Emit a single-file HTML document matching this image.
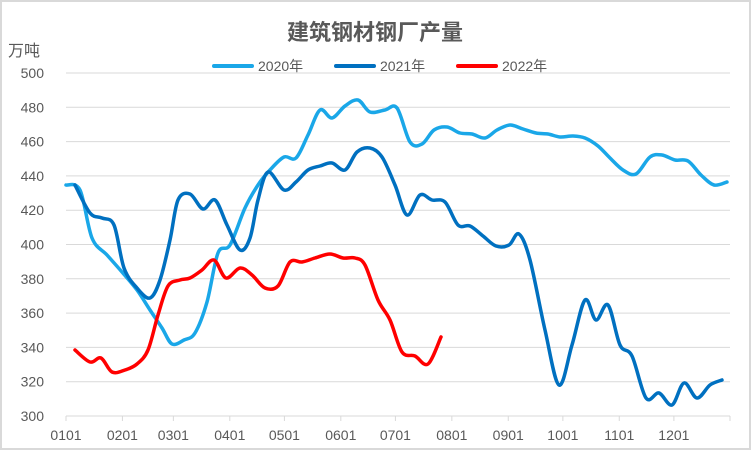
<!DOCTYPE html>
<html><head><meta charset="utf-8"><style>
html,body{margin:0;padding:0;background:#fff}
svg{display:block;font-family:"Liberation Sans","Noto Sans CJK SC",sans-serif}
</style></head><body>
<svg id="s" width="751" height="450" viewBox="0 0 751 450" xmlns="http://www.w3.org/2000/svg">
<rect x="1" y="1" width="749" height="448" fill="#fff" stroke="#d9d9d9" stroke-width="2"/>
<text x="375" y="40" text-anchor="middle" font-size="22" font-weight="bold" fill="#595959">建筑钢材钢厂产量</text>
<text x="8" y="56" font-size="16" fill="#595959">万吨</text>
<g font-size="14" fill="#595959">
<line x1="214" y1="66" x2="252" y2="66" stroke="#1AA7E8" stroke-width="4" stroke-linecap="round"/>
<text x="258" y="71">2020年</text>
<line x1="336" y1="66" x2="374" y2="66" stroke="#0070C0" stroke-width="4" stroke-linecap="round"/>
<text x="380" y="71">2021年</text>
<line x1="458" y1="66" x2="496" y2="66" stroke="#FF0000" stroke-width="4" stroke-linecap="round"/>
<text x="502" y="71">2022年</text>
</g>
<g id="grid"></g>
<g id="lines" fill="none" stroke-width="3.5" stroke-linejoin="round" stroke-linecap="round"></g>
</svg>
<script>
var ns="http://www.w3.org/2000/svg",s=document.getElementById('s'),g=document.getElementById('grid');
function el(t,a,p,txt){var e=document.createElementNS(ns,t);for(var k in a)e.setAttribute(k,a[k]);if(txt)e.textContent=txt;p.appendChild(e);return e;}
for(var i=0;i<=10;i++){var v=300+i*20,y=416-i*34.3;
 el('line',{x1:66,x2:730,y1:y,y2:y,stroke:'#d9d9d9','stroke-width':1},g);
 el('text',{x:44,y:y+5,'text-anchor':'end','font-size':14,fill:'#595959'},g,''+v);}
var days=[0,31,59,90,120,151,181,212,243,273,304,334],lab=['0101','0201','0301','0401','0501','0601','0701','0801','0901','1001','1101','1201'];
days.forEach(function(d,i){var x=66+d*1.82;el('line',{x1:x,x2:x,y1:416,y2:421,stroke:'#d9d9d9'},g);
 el('text',{x:x,y:440,'text-anchor':'middle','font-size':14,fill:'#595959'},g,lab[i]);});
el('line',{x1:730,x2:730,y1:416,y2:421,stroke:'#d9d9d9'},g);
function path(p){var d='M'+p[0][0]+','+p[0][1];for(var i=0;i<p.length-1;i++){var p0=p[i-1]||p[i],p1=p[i],p2=p[i+1],p3=p[i+2]||p2;
 d+=' C'+(p1[0]+(p2[0]-p0[0])/6)+','+(p1[1]+(p2[1]-p0[1])/6)+' '+(p2[0]-(p3[0]-p1[0])/6)+','+(p2[1]-(p3[1]-p1[1])/6)+' '+p2[0]+','+p2[1];}return d;}
var a=[[66,185],[80,190],[92,238],[107,255],[122,272],[137,290],[150,310],[162,328],[172,344],[184,340],[195,333],[207,302],[218,253],[230,245],[245,208],[258,185],[270,170],[284,157],[296,158],[308,135],[320,110],[332,118],[345,106],[358,100],[370,112],[385,110],[397,108],[410,142],[422,144],[434,130],[447,127],[460,133],[472,134],[485,138],[497,130],[510,125],[523,129],[536,133],[548,134],[560,137],[573,136],[585,138],[598,146],[610,158],[623,170],[636,174],[650,157],[662,155],[675,160],[688,161],[701,175],[714,185],[727,182]];
var b=[[75,185],[90,213],[102,218],[114,225],[124,268],[137,288],[150,298],[160,280],[170,240],[178,200],[190,194],[203,209],[215,200],[227,225],[240,250],[250,238],[258,200],[268,172],[284,190],[296,182],[308,170],[320,166],[332,163],[345,170],[357,152],[370,148],[382,157],[395,185],[407,215],[420,195],[432,200],[445,202],[458,225],[470,226],[483,236],[496,246],[509,245],[519,234],[530,260],[545,330],[559,385],[572,345],[585,300],[596,320],[608,305],[620,345],[632,356],[646,398],[659,393],[672,405],[684,383],[697,398],[710,385],[722,380]];
var c=[[75,350],[90,362],[101,358],[112,372],[125,370],[137,364],[148,350],[158,315],[168,286],[180,280],[190,278],[202,270],[214,260],[226,278],[240,268],[252,275],[265,288],[278,286],[290,262],[302,262],[315,258],[330,254],[343,258],[355,258],[365,265],[378,300],[390,320],[402,352],[415,356],[428,364],[441,337]];
var L=document.getElementById('lines');
[[a,'#1AA7E8'],[b,'#0070C0'],[c,'#FF0000']].forEach(function(q){el('path',{d:path(q[0]),stroke:q[1]},L);});
</script>
</body></html>
